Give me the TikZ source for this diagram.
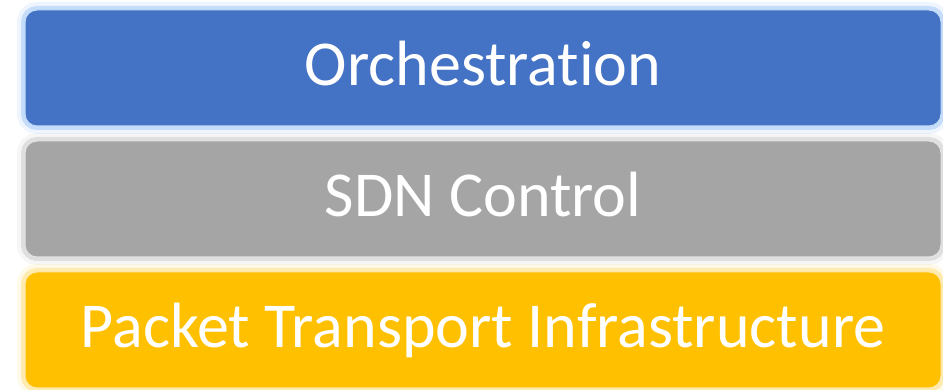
\documentclass[tikz,border=0pt]{standalone}
\usepackage{fontspec}
\setmainfont{Carlito}
\usetikzlibrary{positioning}
\definecolor{orchblue}{HTML}{4472C4}
\definecolor{orchglow}{HTML}{A9CDF7}
\definecolor{sdngray}{HTML}{A5A5A5}
\definecolor{sdnglow}{HTML}{D0D0D0}
\definecolor{ptyellow}{HTML}{FFC000}
\definecolor{ptglow}{HTML}{FFE08A}
\tikzstyle{layer} = [rectangle, rounded corners=12pt, minimum width=916pt, minimum height=116pt, inner sep=0pt, text height=36pt, text depth=0pt, text centered, text=white, line width=1pt, font=\fontsize{64}{70}\selectfont]
\tikzstyle{orchestration} = [layer, fill=orchblue, draw=orchglow!70!white, preaction={draw=orchglow, line width=16pt, opacity=.2}, preaction={draw=orchglow, line width=8pt, opacity=.6}]
\tikzstyle{control} = [layer, fill=sdngray, draw=sdnglow!60!white, preaction={draw=sdnglow, line width=16pt, opacity=.2}, preaction={draw=sdnglow, line width=8pt, opacity=.6}]
\tikzstyle{transport} = [layer, fill=ptyellow, draw=ptglow!70!white, preaction={draw=ptglow, line width=16pt, opacity=.2}, preaction={draw=ptglow, line width=8pt, opacity=.6}]
\begin{document}
\begin{tikzpicture}[node distance=131pt]

\useasboundingbox (0pt,0pt) rectangle (943pt,390pt);

% kern keeps t and i apart
\node (orch) [orchestration] at (483pt,322pt) {Orchestrat\kern0pt ion};
\node (sdn) [control, below of=orch] {SDN Control};
\node (packet) [transport, below of=sdn] {Packet Transport Infrastructure};

\end{tikzpicture}
\end{document}
